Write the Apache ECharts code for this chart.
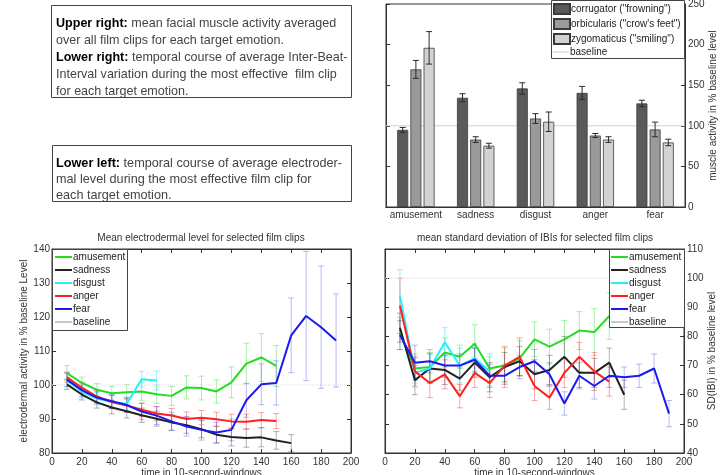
<!DOCTYPE html>
<html>
<head>
<meta charset="utf-8">
<script src="https://cdn.jsdelivr.net/npm/echarts/dist/echarts.min.js"></script>
<style>
body { margin: 0; background: #fff; }
#main { width: 724px; height: 475px; }
</style>
</head>
<body>
<div id="main"></div>
<script>
// bar chart: facial muscles
var cats = ['amusement', 'sadness', 'disgust', 'anger', 'fear'];
var corrVal = [95, 134.5, 146, 140.5, 127.5];
var corrErr = [3, 5, 7, 8, 4];
var orbVal = [169.5, 83, 109, 88, 95.5];
var orbErr = [11, 3.5, 6, 2.5, 9];
var zygVal = [196, 75.5, 105, 83, 79.5];
var zygErr = [20, 3, 12, 3.5, 4];

// time windows
var times = [10, 20, 30, 40, 50, 60, 70, 80, 90, 100, 110, 120, 130, 140, 150, 160, 170, 180, 190];
var xTicks = [0, 200, 20];

// electrodermal level
var edaAmuse = [103.5, 100.6, 98.6, 97.6, 97.9, 98.1, 97.3, 96.8, 99.3, 99.1, 98.1, 100.8, 106.3, 108.1, 105.6];
var edaAmuseErr = [2.2, 1.7, 1.8, 2, 2.2, 2.6, 2.7, 2.8, 3.4, 3.5, 3.4, 4.5, 6, 7, 6];
var edaSad = [100.2, 97.2, 94.9, 93.4, 92.3, 91.1, 90.1, 89, 88.2, 87, 85.4, 84.7, 84.4, 84.6, 83.7, 82.9];
var edaSadErr = [1.5, 1.6, 1.7, 1.9, 2, 2.1, 2.2, 2.3, 2.4, 2.5, 2.5, 2.6, 2.7, 2.8, 2.6, 2.5];
var edaDisg = [101.4, 98, 96, 95, 94.5, 101.7, 101.3];
var edaDisgErr = [2, 1.8, 1.8, 2, 2, 2.3, 2.8];
var edaAnger = [102.3, 99.2, 96.6, 95, 94, 92.7, 91.6, 91, 90, 90.4, 89.9, 89.3, 89.2, 89.7, 89.4];
var edaAngerErr = [1.5, 1.6, 1.8, 1.9, 2, 2, 2.1, 2.1, 2.1, 2.1, 2.1, 2.1, 2.2, 2.2, 2.2];
var edaFear = [101.6, 98.5, 96.3, 95.2, 94.1, 92.2, 91, 89.3, 87.8, 86.8, 86, 86.8, 95.5, 100.2, 100.6, 114.6, 120.3, 117, 113.1];
var edaFearErr = [2, 1.8, 1.8, 2, 2.2, 2.4, 2.6, 2.7, 2.8, 3, 3, 3.2, 5, 6, 6.5, 11, 19, 18, 13.7];

// SD of inter-beat intervals
var ibiAmuse = [81, 69, 69.5, 74.5, 73, 77.5, 69, 70, 72.5, 79, 76.5, 79, 82, 81.5, 87];
var ibiAmuseErr = [5.5, 5, 5, 5, 4, 6.5, 5, 6, 6, 6, 6, 6.5, 6.5, 8, 8];
var ibiSad = [83, 65, 69, 68.5, 65.5, 71, 66, 69.5, 71.5, 67, 68.5, 73, 67.5, 67.5, 71, 60];
var ibiSadErr = [5, 5, 5, 5, 4, 5, 5, 5, 5, 5, 5, 7, 5, 5, 5, 5];
var ibiDisg = [94, 67.5, 69, 78, 70, 72.5, 68];
var ibiDisgErr = [9, 5, 5, 5, 6, 5, 5];
var ibiAnger = [90.5, 68, 64, 67, 59.5, 67.5, 64, 70, 73, 63, 59, 67.5, 73, 68, 64.5];
var ibiAngerErr = [9.5, 5, 5, 5, 4, 5, 5, 6.5, 6.5, 5, 4, 5, 5, 6.5, 5];
var ibiFear = [80.5, 71, 71.5, 70, 70, 72, 66.5, 66.5, 69.5, 71.5, 67, 57, 66.5, 63, 66.5, 66, 66.5, 69, 53.5];
var ibiFearErr = [5, 6, 4, 4, 4, 4, 4, 4, 4, 4, 4, 4, 4.5, 4.5, 4, 3.5, 4, 5, 4.5];

var emoNames = ['amusement', 'sadness', 'disgust', 'anger', 'fear'];
var emoColors = ['#22dd22', '#222222', '#22eeff', '#ff2020', '#1a1aee'];
var emoErrColors = ['rgba(34,221,34,0.4)', 'rgba(34,34,34,0.35)', 'rgba(34,238,255,0.5)', 'rgba(255,32,32,0.4)', 'rgba(26,26,238,0.3)'];

var FONT = 'Liberation Sans, Arial, sans-serif';
var BARW = 11;

function pairs(vals) {
	return vals.map(function(v, i) { return [times[i], v]; });
}
function errPairs(vals, errs) {
	return vals.map(function(v, i) { return [times[i], v - errs[i], v + errs[i]]; });
}

// error bar drawn through the axis scales
function errRender(color, offset, cap) {
	return function(params, api) {
		var x = api.value(0);
		var p1 = api.coord([x, api.value(1)]);
		var p2 = api.coord([x, api.value(2)]);
		var dx = offset;
		var st = { stroke: color, lineWidth: 1 };
		return {
			type: 'group',
			children: [
				{ type: 'line', shape: { x1: p1[0] + dx, y1: p1[1], x2: p2[0] + dx, y2: p2[1] }, style: st },
				{ type: 'line', shape: { x1: p1[0] + dx - cap, y1: p1[1], x2: p1[0] + dx + cap, y2: p1[1] }, style: st },
				{ type: 'line', shape: { x1: p2[0] + dx - cap, y1: p2[1], x2: p2[0] + dx + cap, y2: p2[1] }, style: st }
			]
		};
	};
}

var axisCol = '#333';
function valAxis(grid, min, max, step, pos, labels, margin) {
	return {
		gridIndex: grid, type: 'value', min: min, max: max, interval: step, position: pos,
		axisLine: { show: true, onZero: false, lineStyle: { color: axisCol } },
		axisTick: { show: true, inside: true, length: 4, lineStyle: { color: axisCol } },
		axisLabel: { show: labels, color: '#333', fontSize: 10, fontFamily: FONT, margin: margin || 4 },
		splitLine: { show: false }
	};
}

var series = [];

// bars
var barSets = [
	{ name: 'corrugator ("frowning")', vals: corrVal, errs: corrErr, color: '#5a5a5a' },
	{ name: 'orbicularis ("crow\'s feet")', vals: orbVal, errs: orbErr, color: '#9a9a9a' },
	{ name: 'zygomaticus ("smiling")', vals: zygVal, errs: zygErr, color: '#d2d2d2' }
];
barSets.forEach(function(b, k) {
	series.push({
		name: b.name, type: 'bar', xAxisIndex: 0, yAxisIndex: 0,
		data: b.vals, barWidth: BARW, barGap: '20%',
		itemStyle: { color: b.color, borderColor: '#3a3a3a', borderWidth: 0.8 },
		z: 2
	});
});
barSets.forEach(function(b, k) {
	series.push({
		type: 'custom', xAxisIndex: 0, yAxisIndex: 0,
		renderItem: errRender('#2a2a2a', (k - 1) * BARW * 1.2, 3),
		data: b.vals.map(function(v, i) { return [i, v - b.errs[i], v + b.errs[i]]; }),
		encode: { x: 0, y: [1, 2] }, z: 3, silent: true
	});
});
series.push({
	name: 'baseline', type: 'line', xAxisIndex: 2, yAxisIndex: 0,
	data: [[0, 100], [1, 100]], symbol: 'none',
	lineStyle: { color: '#cfcfcf', width: 1 }, itemStyle: { color: '#c8c8c8' }, z: 1
});

// line panels
function addPanel(xi, yi, sets) {
	sets.forEach(function(s, k) {
		series.push({
			type: 'custom', xAxisIndex: xi, yAxisIndex: yi,
			renderItem: errRender(emoErrColors[k], 0, 3),
			data: errPairs(s[0], s[1]), encode: { x: 0, y: [1, 2] }, z: 1, silent: true
		});
	});
	sets.forEach(function(s, k) {
		series.push({
			name: emoNames[k], type: 'line', xAxisIndex: xi, yAxisIndex: yi,
			data: pairs(s[0]), symbol: 'none',
			lineStyle: { color: emoColors[k], width: 2 }, itemStyle: { color: emoColors[k] }, z: 2
		});
	});
	series.push({
		name: 'baseline', type: 'line', xAxisIndex: xi, yAxisIndex: yi,
		data: [[0, 100], [200, 100]], symbol: 'none',
		lineStyle: { color: '#dcdcdc', width: 1, type: 'dotted' }, itemStyle: { color: '#c8c8c8' }, z: 1
	});
}
addPanel(3, 2, [[edaAmuse, edaAmuseErr], [edaSad, edaSadErr], [edaDisg, edaDisgErr], [edaAnger, edaAngerErr], [edaFear, edaFearErr]]);
addPanel(5, 4, [[ibiAmuse, ibiAmuseErr], [ibiSad, ibiSadErr], [ibiDisg, ibiDisgErr], [ibiAnger, ibiAngerErr], [ibiFear, ibiFearErr]]);

var catAxisBase = {
	gridIndex: 0, type: 'category', data: cats, boundaryGap: true,
	axisLine: { lineStyle: { color: axisCol } },
	axisTick: { inside: true, alignWithLabel: true, length: 4, lineStyle: { color: axisCol } },
	splitLine: { show: false }
};

var xName = { name: 'time in 10-second-windows', nameLocation: 'middle', nameGap: 13,
	nameTextStyle: { color: '#333', fontSize: 10, fontFamily: FONT } };
var yNameStyle = { color: '#333', fontSize: 10, fontFamily: FONT };
var legText = { fontSize: 10, color: '#222', fontFamily: FONT, padding: [0, 0, 0, -4] };

var option = {
	animation: false,
	textStyle: { fontFamily: FONT },
	grid: [
		{ left: 386, top: 4, width: 299, height: 203, show: true, borderColor: axisCol, borderWidth: 1, outerBoundsMode: 'none' },
		{ left: 52, top: 249, width: 299, height: 204, show: true, borderColor: axisCol, borderWidth: 1, outerBoundsMode: 'none' },
		{ left: 385, top: 249, width: 299, height: 204, show: true, borderColor: axisCol, borderWidth: 1, outerBoundsMode: 'none' }
	],
	xAxis: [
		Object.assign({}, catAxisBase, { position: 'bottom',
			axisLabel: { color: '#333', fontSize: 10, fontFamily: FONT, margin: 3, interval: 0 } }),
		Object.assign({}, catAxisBase, { position: 'top', axisLabel: { show: false } }),
		{ gridIndex: 0, type: 'value', min: 0, max: 1, show: false },
		Object.assign(valAxis(1, xTicks[0], xTicks[1], xTicks[2], 'bottom', true, 4), xName),
		valAxis(1, xTicks[0], xTicks[1], xTicks[2], 'top', false),
		Object.assign(valAxis(2, xTicks[0], xTicks[1], xTicks[2], 'bottom', true, 4), xName),
		valAxis(2, xTicks[0], xTicks[1], xTicks[2], 'top', false)
	],
	yAxis: [
		Object.assign(valAxis(0, 0, 250, 50, 'right', true, 3), {
			name: 'muscle activity in % baseline level', nameLocation: 'middle', nameRotate: 90, nameGap: 14,
			nameTextStyle: yNameStyle }),
		valAxis(0, 0, 250, 50, 'left', false),
		Object.assign(valAxis(1, 80, 140, 10, 'left', true, 2), {
			name: 'electrodermal activity in % baseline Level', nameLocation: 'middle', nameRotate: 90, nameGap: 12,
			nameTextStyle: yNameStyle }),
		valAxis(1, 80, 140, 10, 'right', false),
		Object.assign(valAxis(2, 40, 110, 10, 'right', true, 3), {
			name: 'SD(IBI) in % baseline level', nameLocation: 'middle', nameRotate: 90, nameGap: 14,
			nameTextStyle: yNameStyle }),
		valAxis(2, 40, 110, 10, 'left', false)
	],
	legend: [
		{
			data: [barSets[0].name, barSets[1].name, barSets[2].name],
			orient: 'vertical', left: 553, top: 3, icon: 'rect', itemWidth: 16, itemHeight: 10, itemGap: 3,
			textStyle: legText, selectedMode: false, padding: 0
		},
		{
			data: ['baseline'],
			orient: 'vertical', left: 553, top: 47, icon: 'rect', itemWidth: 16, itemHeight: 1,
			textStyle: legText, selectedMode: false, padding: 0
		},
		{
			data: emoNames.concat(['baseline']),
			orient: 'vertical', left: 55, top: 252, icon: 'rect', itemWidth: 17, itemHeight: 2, itemGap: 3,
			textStyle: legText, selectedMode: false, padding: 0
		},
		{
			data: emoNames.concat(['baseline']),
			orient: 'vertical', left: 611, top: 252, icon: 'rect', itemWidth: 17, itemHeight: 2, itemGap: 3,
			textStyle: legText, selectedMode: false, padding: 0
		}
	],
	graphic: [
		// legend frames
		{ type: 'rect', z: 3, shape: { x: 551.5, y: 0.5, width: 133, height: 58 }, style: { fill: '#fff', stroke: '#444', lineWidth: 1 } },
		{ type: 'rect', z: 3, shape: { x: 52.5, y: 249.5, width: 75, height: 81 }, style: { fill: '#fff', stroke: '#444', lineWidth: 1 } },
		{ type: 'rect', z: 3, shape: { x: 609.5, y: 249.5, width: 75, height: 78 }, style: { fill: '#fff', stroke: '#444', lineWidth: 1 } },
		// panel titles
		{ type: 'text', x: 201, y: 238, style: { text: 'Mean electrodermal level for selected film clips', fill: '#333',
			font: '10px ' + FONT, textAlign: 'center', textVerticalAlign: 'middle' } },
		{ type: 'text', x: 535, y: 238, style: { text: 'mean standard deviation of IBIs for selected film clips', fill: '#333',
			font: '10px ' + FONT, textAlign: 'center', textVerticalAlign: 'middle' } },
		// caption boxes
		{ type: 'rect', shape: { x: 51.5, y: 5.5, width: 300, height: 92 }, style: { fill: '#fff', stroke: '#444', lineWidth: 1 } },
		{ type: 'rect', shape: { x: 52.5, y: 145.5, width: 299, height: 56 }, style: { fill: '#fff', stroke: '#444', lineWidth: 1 } },
		{ type: 'text', x: 56, y: 15, scaleX: 0.965, style: {
			text: '{b|Upper right:} mean facial muscle activity averaged\nover all film clips for each target emotion.\n{b|Lower right:} temporal course of average Inter-Beat-\nInterval variation during the most effective  film clip\nfor each target emotion.',
			font: '13px ' + FONT, fill: '#444', lineHeight: 17,
			rich: { b: { fontWeight: 'bold', fill: '#000', fontSize: 13, fontFamily: FONT, lineHeight: 17 } } } },
		{ type: 'text', x: 56, y: 155, scaleX: 0.975, style: {
			text: '{b|Lower left:} temporal course of average electroder-\nmal level during the most effective film clip for\neach target emotion.',
			font: '13px ' + FONT, fill: '#444', lineHeight: 16,
			rich: { b: { fontWeight: 'bold', fill: '#000', fontSize: 13, fontFamily: FONT, lineHeight: 16 } } } }
	],
	series: series
};

var chart = echarts.init(document.getElementById('main'));
chart.setOption(option);
</script>
</body>
</html>
